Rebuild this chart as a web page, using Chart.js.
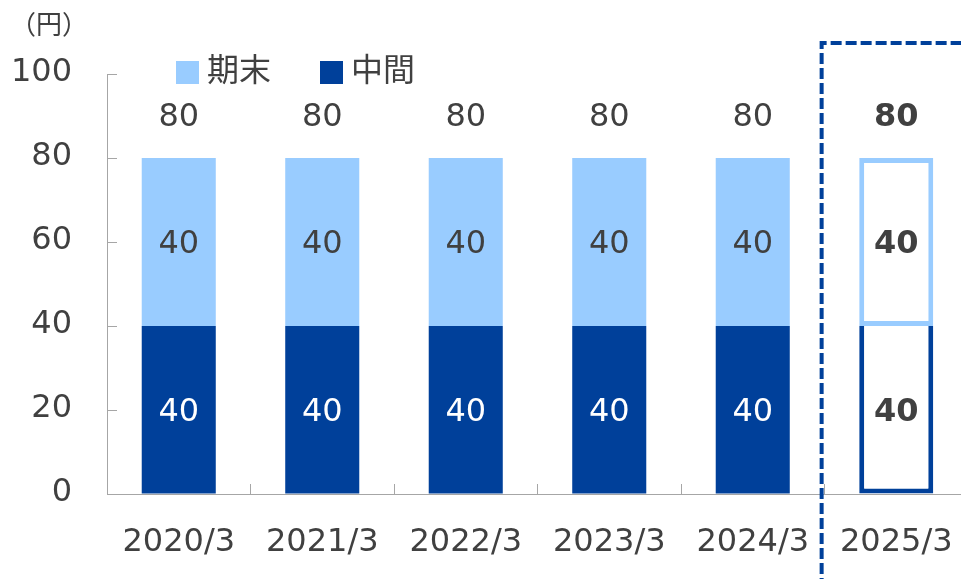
<!DOCTYPE html>
<html lang="ja">
<head>
<meta charset="utf-8">
<script src="https://cdn.jsdelivr.net/npm/chart.js@4.4.0/dist/chart.umd.min.js"></script>
<style>
  html, body { margin: 0; padding: 0; background: #fff; overflow: hidden; }
  #wrap { position: relative; width: 968px; height: 579px; }
</style>
</head>
<body>
<div id="wrap"><canvas id="dividendChart"></canvas></div>
<script>
// === DATA ===
const years = ['2020/3', '2021/3', '2022/3', '2023/3', '2024/3', '2025/3'];
const interim = [40, 40, 40, 40, 40, 40];   // 中間
const yearEnd = [40, 40, 40, 40, 40, 40];   // 期末
const yTicks = [0, 20, 40, 60, 80, 100];
const forecastIndex = 5; // 2025/3 = forecast (outlined bar)

const DARK = '#00409a';
const LIGHT = '#99ccff';
const TEXT = '#404040';
const AXIS = '#a6a6a6';
const FONT = "'DejaVu Sans', 'Noto Sans CJK JP', sans-serif";
const CJK = "'Noto Sans CJK JP', sans-serif";

const isFc = i => i === forecastIndex;

// labels inside bars, totals on top, legend, unit and the forecast frame
const dividendDecor = {
  id: 'dividendDecor',
  afterDatasetsDraw(chart) {
    const { ctx } = chart;
    const x = chart.scales.x, y = chart.scales.y;
    ctx.save();
    ctx.textAlign = 'center';
    ctx.textBaseline = 'middle';

    chart.data.datasets.forEach((ds, di) => {
      chart.getDatasetMeta(di).data.forEach((bar, i) => {
        const p = bar.getProps(['x', 'y', 'base'], true);
        ctx.font = (isFc(i) ? 'bold ' : '') + '32px ' + FONT;
        ctx.fillStyle = (di === 0 && !isFc(i)) ? '#ffffff' : TEXT;
        ctx.fillText(ds.data[i], p.x, (p.y + p.base) / 2 + 3);
      });
    });

    // totals above the stack
    years.forEach((yr, i) => {
      const total = interim[i] + yearEnd[i];
      ctx.font = (isFc(i) ? 'bold ' : '') + '32px ' + FONT;
      ctx.fillStyle = TEXT;
      ctx.fillText(total, x.getPixelForValue(i), y.getPixelForValue(total) - 40);
    });
    ctx.restore();
  },
  afterDraw(chart) {
    const { ctx } = chart;
    const x = chart.scales.x, y = chart.scales.y;
    ctx.save();

    // unit
    ctx.font = '26px ' + CJK;
    ctx.fillStyle = TEXT;
    ctx.textAlign = 'center';
    ctx.textBaseline = 'middle';
    ctx.fillText('（円）', 49, 24);

    // legend (期末 first)
    const items = chart.data.datasets.slice().reverse();
    let lx = 176;
    ctx.textAlign = 'left';
    ctx.font = '32px ' + CJK;
    items.forEach(ds => {
      ctx.fillStyle = ds.legendColor;
      ctx.fillRect(lx, 61, 23, 23);
      ctx.fillStyle = TEXT;
      ctx.fillText(ds.label, lx + 31, 69);
      lx += 144;
    });

    // dashed frame around the forecast year
    const catW = x.width / years.length;
    const left = x.getPixelForValue(forecastIndex) - 0.52 * catW;
    const top = y.getPixelForValue(100) - 31;
    ctx.strokeStyle = DARK;
    ctx.lineWidth = 4;
    ctx.setLineDash([11, 4]);
    ctx.beginPath();
    ctx.moveTo(left, chart.height + 10);
    ctx.lineTo(left, top);
    ctx.lineTo(chart.width + 10, top);
    ctx.stroke();
    ctx.restore();
  }
};

const ctx = document.getElementById('dividendChart').getContext('2d');

new Chart(ctx, {
  type: 'bar',
  data: {
    labels: years,
    datasets: [
      {
        label: '中間',
        data: interim,
        legendColor: DARK,
        backgroundColor: years.map((_, i) => isFc(i) ? '#ffffff' : DARK),
        borderColor: DARK,
        borderWidth: years.map((_, i) => isFc(i) ? 5 : 0),
        borderSkipped: 'top',
        barPercentage: 0.516,
        categoryPercentage: 1
      },
      {
        label: '期末',
        data: yearEnd,
        legendColor: LIGHT,
        backgroundColor: years.map((_, i) => isFc(i) ? '#ffffff' : LIGHT),
        borderColor: LIGHT,
        borderWidth: years.map((_, i) => isFc(i) ? 5 : 0),
        borderSkipped: false,
        barPercentage: 0.516,
        categoryPercentage: 1
      }
    ]
  },
  options: {
    responsive: true,
    maintainAspectRatio: false,
    animation: false,
    layout: { padding: { top: 74, bottom: 0, left: 0, right: 0 } },
    plugins: {
      legend: { display: false },
      tooltip: { enabled: false }
    },
    scales: {
      x: {
        stacked: true,
        border: { color: AXIS, width: 1 },
        grid: { drawOnChartArea: false, tickLength: -10, color: AXIS, offset: true },
        ticks: {
          color: TEXT,
          font: { family: FONT, size: 32 },
          padding: 39,
          maxRotation: 0,
          autoSkip: false
        },
        afterFit: s => { s.height = 85; s.paddingLeft = 0; s.paddingRight = 0; }
      },
      y: {
        stacked: true,
        min: 0,
        max: 100,
        border: { color: AXIS, width: 1 },
        grid: { drawOnChartArea: false, tickLength: -10, color: AXIS },
        afterBuildTicks: s => { s.ticks = yTicks.map(v => ({ value: v })); },
        ticks: {
          color: TEXT,
          font: { family: FONT, size: 32 },
          padding: 45,
          labelOffset: -1
        },
        afterFit: s => { s.width = 107; s.paddingTop = 0; s.paddingBottom = 0; }
      }
    }
  },
  plugins: [dividendDecor]
});
</script>
</body>
</html>
